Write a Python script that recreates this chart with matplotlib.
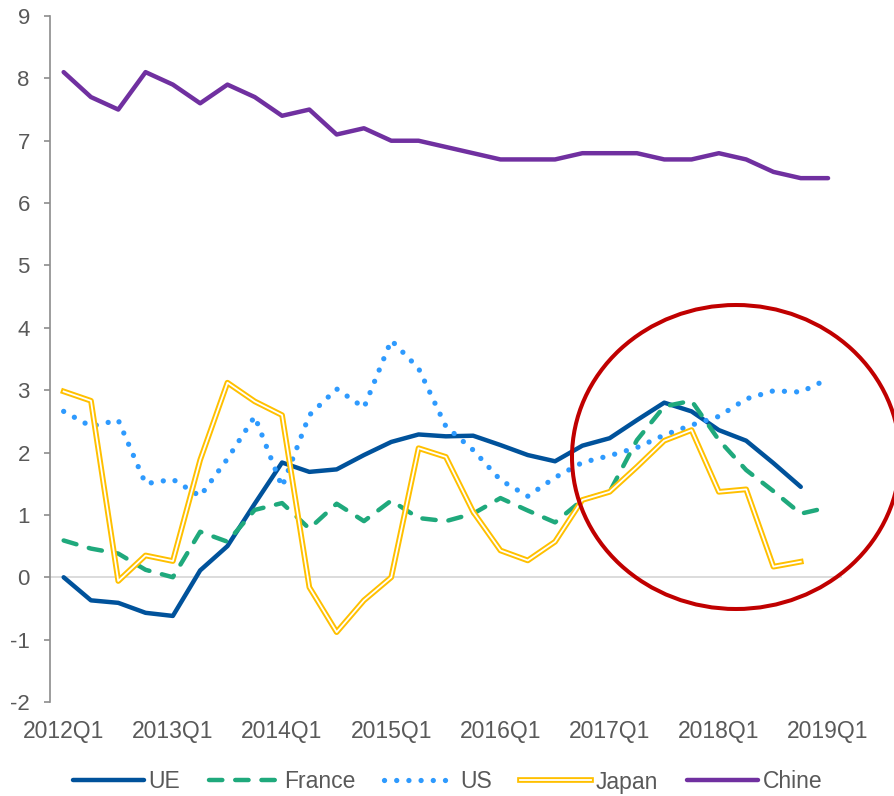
import numpy as np
import matplotlib
matplotlib.use("Agg")
import matplotlib.pyplot as plt
import matplotlib.patheffects as pe
from matplotlib.patches import Ellipse

plt.rcParams['font.family'] = ['Liberation Sans', 'DejaVu Sans']
plt.rcParams['axes.unicode_minus'] = False  # plain hyphen like the original

# quarterly data, 2012Q1 .. 2019Q1
tick_labels = ['2012Q1', '2013Q1', '2014Q1', '2015Q1', '2016Q1', '2017Q1', '2018Q1', '2019Q1']
n_quarters = 29

ue = [0.0, -0.37, -0.41, -0.57, -0.62, 0.11, 0.50, 1.18, 1.84, 1.69, 1.73, 1.96, 2.17, 2.29,
      2.26, 2.27, 2.12, 1.96, 1.86, 2.11, 2.23, 2.52, 2.80, 2.66, 2.36, 2.19, 1.83, 1.45, np.nan]
france = [0.59, 0.46, 0.38, 0.12, 0.0, 0.73, 0.57, 1.08, 1.19, 0.78, 1.18, 0.90, 1.23, 0.95,
          0.90, 1.02, 1.27, 1.07, 0.88, 1.24, 1.37, 2.20, 2.74, 2.83, 2.20, 1.72, 1.38, 1.02, 1.12]
us = [2.66, 2.42, 2.52, 1.50, 1.57, 1.30, 1.90, 2.58, 1.45, 2.60, 3.02, 2.72, 3.80, 3.35,
      2.42, 2.04, 1.56, 1.30, 1.60, 1.84, 1.95, 2.08, 2.28, 2.44, 2.58, 2.86, 2.99, 2.97, 3.18]
japan = [2.98, 2.83, -0.06, 0.35, 0.26, 1.88, 3.12, 2.82, 2.60, -0.16, -0.88, -0.37, 0.0, 2.07,
         1.93, 1.05, 0.43, 0.27, 0.57, 1.24, 1.37, 1.77, 2.19, 2.36, 1.37, 1.41, 0.17, 0.25, np.nan]
chine = [8.1, 7.7, 7.5, 8.1, 7.9, 7.6, 7.9, 7.7, 7.4, 7.5, 7.1, 7.2, 7.0, 7.0, 6.9, 6.8, 6.7,
         6.7, 6.7, 6.8, 6.8, 6.8, 6.7, 6.7, 6.8, 6.7, 6.5, 6.4, 6.4]

x = np.arange(n_quarters)

fig = plt.figure(figsize=(8.95, 7.96), dpi=100)
ax = fig.add_axes([50 / 895, 1 - 702 / 796, (841.7 - 50) / 895, (702 - 16) / 796])

ax.axhline(0, color='#D9D9D9', lw=1.3, zorder=1)

ax.plot(x, ue, color='#00529B', lw=3.2, solid_capstyle='round', label='UE', zorder=3)
ax.plot(x, france, color='#1FA97C', lw=3.2, ls=(0, (3.0, 2.9)), dash_capstyle='round',
        label='France', zorder=3)
ax.plot(x, us, color='#2E9AFE', lw=3.8, ls=(0, (0.01, 2.3)), dash_capstyle='round',
        label='US', zorder=3)
ax.plot(x, japan, color='white', lw=1.3, label='Japan', zorder=3,
        path_effects=[pe.Stroke(linewidth=4.1, foreground='#FFC000'), pe.Normal()])
ax.plot(x, chine, color='#7030A0', lw=3.2, solid_capstyle='round', label='Chine', zorder=3)

ax.set_xlim(-0.5, n_quarters - 0.5)
ax.set_ylim(-2, 9)
ax.set_yticks(range(-2, 10))
ax.set_xticks(x[::4])
ax.set_xticklabels(tick_labels)

for s in ['top', 'right', 'bottom']:
    ax.spines[s].set_visible(False)
ax.spines['left'].set_color('#8C8C8C')
ax.spines['left'].set_linewidth(1.2)
ax.tick_params(axis='y', length=4.5, width=1.2, color='#8C8C8C', labelsize=16,
               labelcolor='#595959', pad=10)
ax.tick_params(axis='x', length=0, labelsize=16.5, labelcolor='#595959', pad=13)

# red circle highlighting the recent period
circle = Ellipse((736 / 895, 1 - 457 / 796), 328 / 895, 304 / 796, transform=fig.transFigure,
                 fill=False, edgecolor='#C00000', lw=2.9, zorder=5)
fig.patches.append(circle)

fig.legend(loc='center', bbox_to_anchor=(0.5, 1 - 782 / 796), ncol=5, frameon=False,
           fontsize=16.5, handlelength=3.1, handletextpad=0.2, columnspacing=1.25,
           labelcolor='#595959')

fig.savefig('out.png', dpi=100)
